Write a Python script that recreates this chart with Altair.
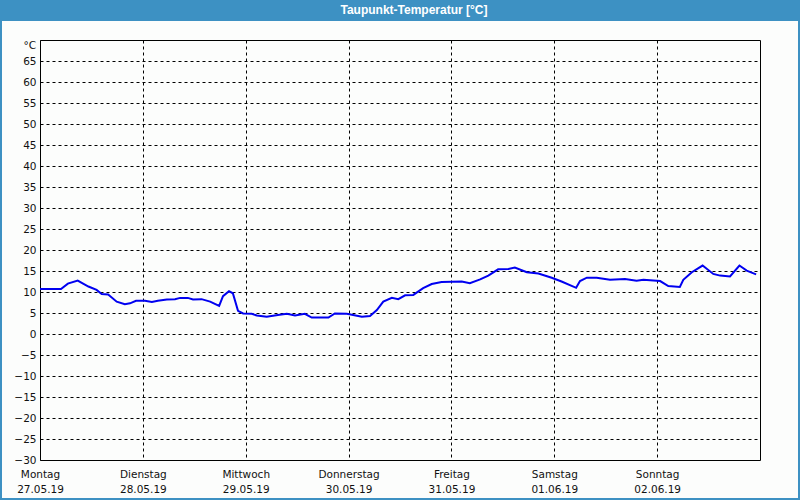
import altair as alt
import pandas as pd

# hours since Monday 27.05.19 00:00 and dew point values (°C)
hours = [0, 4.9, 6.5, 8.8, 11.3, 13.2, 14.4, 15.9, 17.9, 19.8, 21.0, 22.4, 24.5, 26.1, 27.5,
         29.6, 31.5, 32.7, 34.5, 35.7, 37.7, 39.7, 41.8, 42.7, 44.1, 45.0, 46.2, 47.4, 49.4,
         50.6, 52.9, 55.5, 57.6, 59.5, 61.8, 63.4, 67.3, 68.8, 71.6, 75.1, 77.0, 78.6, 80.1,
         82.1, 83.6, 85.2, 87.1, 89.4, 91.4, 93.7, 98.4, 100.3, 102.7, 104.6, 106.9, 109.3,
         110.8, 113.6, 116.3, 119.4, 121.7, 125.1, 126.0, 127.6, 129.9, 133.0, 136.5, 139.2,
         140.8, 144.7, 146.6, 149.3, 150.1, 152.1, 154.6, 157.1, 158.7, 161.0, 163.2, 164.9,
         167.1]
dewpoint = [10.7, 10.7, 12.0, 12.7, 11.3, 10.5, 9.5, 9.4, 7.7, 7.1, 7.3, 7.9, 7.9, 7.6, 7.9,
            8.2, 8.3, 8.6, 8.6, 8.2, 8.3, 7.7, 6.7, 9.0, 10.2, 9.7, 5.5, 4.9, 4.8,
            4.4, 4.1, 4.5, 4.8, 4.4, 4.8, 3.9, 3.9, 4.9, 4.8, 4.1, 4.3, 5.7, 7.7,
            8.6, 8.3, 9.2, 9.3, 10.9, 11.9, 12.4, 12.5, 12.1, 13.0, 13.9, 15.4, 15.5,
            15.8, 14.7, 14.4, 13.4, 12.5, 11.0, 12.6, 13.4, 13.4, 12.9, 13.1, 12.7,
            12.9, 12.6, 11.4, 11.2, 12.9, 14.7, 16.3, 14.3, 13.9, 13.7, 16.3, 15.1,
            14.2]

day_names = ["Montag", "Dienstag", "Mittwoch", "Donnerstag", "Freitag", "Samstag", "Sonntag"]
day_dates = ["27.05.19", "28.05.19", "29.05.19", "30.05.19", "31.05.19", "01.06.19", "02.06.19"]
y_ticks = list(range(-30, 70, 5))
title_text = "Taupunkt-Temperatur [°C]"

df = pd.DataFrame({"h": hours, "v": dewpoint})
one = pd.DataFrame({"h": [0], "v": [70]})

BLUE = "#3d91c3"
FONT = "DejaVu Sans"
FS = 10.5

label_arr = "[" + ",".join(f"['{n}','{d}']" for n, d in zip(day_names, day_dates)) + "]"
x_expr = f"{label_arr}[round(datum.value/24)]"

xscale = alt.Scale(domain=[0, 168], nice=False, zero=False)
yscale = alt.Scale(domain=[-30, 70], nice=False, zero=False)
xaxis = alt.Axis(values=[0, 24, 48, 72, 96, 120, 144], labelExpr=x_expr, title=None,
                 grid=True, gridDash=[3, 3], gridColor="black", gridOpacity=1,
                 domain=False, ticks=False, labelFont=FONT, labelFontSize=FS,
                 labelColor="#111", labelPadding=9, labelLineHeight=15,
                 labelBaseline="top", labelFlush=False, labelOverlap=False)
yaxis = alt.Axis(values=y_ticks, title=None, grid=True, gridDash=[3, 3],
                 gridColor="black", gridOpacity=1, domain=False, ticks=False,
                 labelFont=FONT, labelFontSize=FS, labelColor="#111",
                 labelPadding=4, labelOverlap=False)

border = alt.Chart(one).mark_rect(fill="transparent", stroke=BLUE, strokeWidth=2).encode(
    x=alt.value(-39), x2=alt.value(759), y=alt.value(-39), y2=alt.value(459))
titlebar = alt.Chart(one).mark_rect(fill=BLUE).encode(
    x=alt.value(-40), x2=alt.value(760), y=alt.value(-40), y2=alt.value(-19))
title = alt.Chart(one).mark_text(text=title_text, color="white", font="Liberation Sans",
                                 fontSize=12, fontWeight="bold", align="center",
                                 baseline="middle").encode(
    x=alt.value(374), y=alt.value(-30))

line = alt.Chart(df).mark_line(color="#0000f0", strokeWidth=2, interpolate="linear").encode(
    x=alt.X("h:Q", scale=xscale, axis=xaxis),
    y=alt.Y("v:Q", scale=yscale, axis=yaxis),
)

unit = alt.Chart(one).mark_text(text="°C", align="right", baseline="middle", dx=-4, dy=6,
                                font=FONT, fontSize=FS, color="#111").encode(
    x=alt.X("h:Q", scale=xscale, axis=xaxis), y=alt.Y("v:Q", scale=yscale, axis=yaxis))

chart = alt.layer(border, titlebar, title, line, unit).properties(
    width=720, height=420,
    autosize=alt.AutoSizeParams(type="none"),
    padding={"left": 40, "top": 40, "right": 40, "bottom": 40},
    background="#fcfdfc",
).configure_view(stroke="black", strokeWidth=1)

chart.save("out.html", embed_options={"renderer": "svg", "actions": False})
